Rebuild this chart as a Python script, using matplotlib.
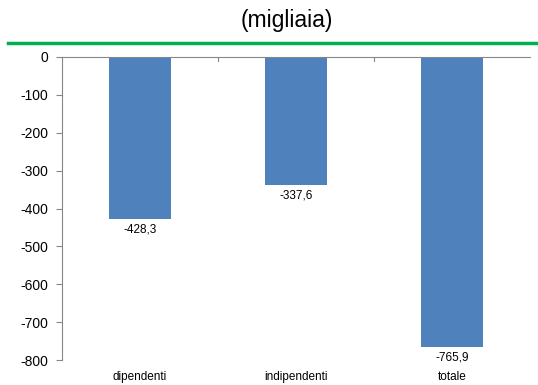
import matplotlib
matplotlib.use("Agg")
import matplotlib.pyplot as plt
from matplotlib.lines import Line2D

categories = ["dipendenti", "indipendenti", "totale"]
values = [-428.3, -337.6, -765.9]
yticks = [0, -100, -200, -300, -400, -500, -600, -700, -800]

plt.rcParams["font.family"] = ["Liberation Sans", "DejaVu Sans"]
AXIS_GREY = "#868686"
BAR_BLUE = "#4F81BD"

fig = plt.figure(figsize=(5.38, 3.85), dpi=100)
ax = fig.add_axes([62 / 538, 1 - 360 / 385, 468 / 538, 303 / 385])

x = range(len(categories))
ax.bar(x, values, width=0.4, color=BAR_BLUE, zorder=2)

# value labels under each bar
for xi, v in zip(x, values):
    ax.annotate(f"{v:.1f}".replace(".", ","), (xi, v), xytext=(0, -3),
                textcoords="offset points", ha="center", va="top", fontsize=8.5)

ax.set_xlim(-0.5, len(categories) - 0.5)
ax.set_ylim(-800, 0)
ax.set_yticks(yticks)
ax.set_yticklabels([str(t) for t in yticks], fontsize=10)
ax.tick_params(axis="y", length=4, color=AXIS_GREY, pad=6)

# category names sit at the bottom, separator ticks on the zero line
ax.set_xticks([])
for xi, name in zip(x, categories):
    ax.text(xi, -0.035, name, transform=ax.get_xaxis_transform(),
            ha="center", va="top", fontsize=8.5)
for b in [0.5, 1.5]:
    ax.plot([b, b], [0, -10], color=AXIS_GREY, lw=0.8, zorder=1)

for s in ["right", "bottom"]:
    ax.spines[s].set_visible(False)
ax.spines["left"].set_color(AXIS_GREY)
ax.spines["top"].set_color(AXIS_GREY)
ax.spines["left"].set_linewidth(0.8)
ax.spines["top"].set_linewidth(0.8)

# header: title and green rule
fig.text(287 / 538, 1 - 21 / 385, "(migliaia)", ha="center", va="center", fontsize=16.5)
fig.add_artist(Line2D([8 / 538, 1.0], [1 - 43 / 385] * 2, color="#00B050", lw=2.5,
                      transform=fig.transFigure))

fig.savefig("out.png", dpi=100)
